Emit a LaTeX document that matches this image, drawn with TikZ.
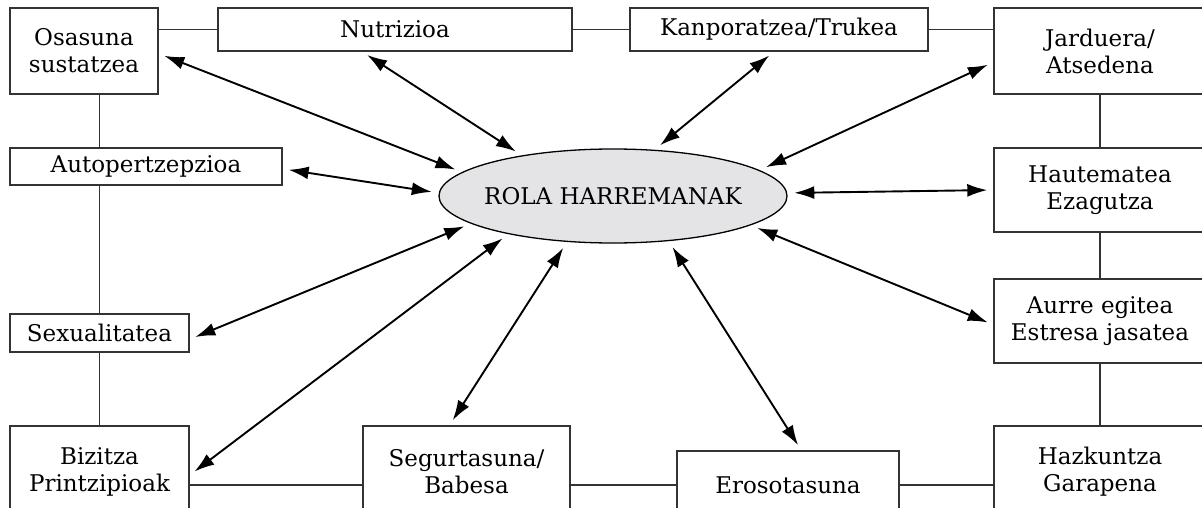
\documentclass[tikz,border=0pt]{standalone}
\usepackage{fontspec}
\setmainfont{DejaVu Serif}
\usetikzlibrary{arrows.meta,shapes.geometric}
\definecolor{boxline}{RGB}{51,51,51}
\definecolor{rolagray}{RGB}{228,228,230}
\tikzset{
  wire/.style={boxline,line width=1.3pt},
  box/.style={draw=boxline,line width=1.4pt,fill=white,inner sep=0pt,align=center,
              font=\fontsize{23}{27}\selectfont},
  core/.style={ellipse,draw=black,line width=1.3pt,fill=rolagray,inner ysep=0pt,inner xsep=-15pt,
               minimum width=348pt,minimum height=94pt,font=\fontsize{23}{27}\selectfont},
  link/.style={{Latex[length=20pt,width=13pt]}-{Latex[length=20pt,width=13pt]},
               line width=1.9pt,shorten <=7pt,shorten >=6pt},
}

\begin{document}
\begin{tikzpicture}[x=1pt,y=-1pt]
  \path[use as bounding box] (0,0) rectangle (1202,508);
  \clip (0,0) rectangle (1202,508);

  % top row
  \node[box,minimum width=148pt,minimum height=86pt] (osasuna) at (84,51) {Osasuna\\sustatzea};
  \node[box,minimum width=354pt,minimum height=43pt] (nutrizioa) at (395,29.5) {Nutrizioa};
  \node[box,minimum width=298pt,minimum height=43pt] (kanpor) at (779,29.5) {Kanporatzea/Trukea};
  \node[box,minimum width=212pt,minimum height=86pt] (jarduera) at (1100,51) {Jarduera/\\Atsedena};

  % left column
  \node[box,minimum width=272pt,minimum height=37pt] (autoper) at (146,166.5) {Autopertzepzioa};
  \node[box,minimum width=179pt,minimum height=38pt] (sexual) at (99.5,333) {Sexualitatea};
  \node[box,minimum width=179pt,minimum height=92pt] (bizitza) at (99.5,472) {Bizitza\\Printzipioak};

  % right column
  \node[box,minimum width=212pt,minimum height=84pt] (hautematea) at (1100,190) {Hautematea\\Ezagutza};
  \node[box,minimum width=212pt,minimum height=84pt] (aurre) at (1100,321) {Aurre egitea\\Estresa jasatea};
  \node[box,minimum width=212pt,minimum height=92pt] (hazkuntza) at (1100,472) {Hazkuntza\\Garapena};

  % bottom row
  \node[box,minimum width=207pt,minimum height=92pt] (segurt) at (466.5,472) {Segurtasuna/\\Babesa};
  \node[box,minimum width=222pt,minimum height=68pt] (eroso) at (788,485) {Erosotasuna};

  \node[core] (rola) at (613,196) {ROLA HARREMANAK};

  % frame
  \draw[wire] (osasuna.east |- nutrizioa.west) -- (nutrizioa.west);
  \draw[wire] (nutrizioa.east) -- (kanpor.west);
  \draw[wire] (kanpor.east) -- (kanpor.east -| jarduera.west);
  \draw[wire] (jarduera) -- (hautematea);
  \draw[wire] (hautematea) -- (aurre);
  \draw[wire] (aurre) -- (hazkuntza);
  \draw[wire] (osasuna.south -| sexual) -- (autoper.north -| sexual);
  \draw[wire] (autoper.south -| sexual) -- (sexual.north);
  \draw[wire] (sexual) -- (bizitza);
  \draw[wire] (bizitza.east |- eroso) -- (segurt.west |- eroso);
  \draw[wire] (segurt.east |- eroso) -- (eroso.west);
  \draw[wire] (eroso.east) -- (eroso.east -| hazkuntza.west);

  % arrows
  \draw[link] (rola.171.6) -- (osasuna.-2.5);
  \draw[link] (rola.156.9) -- (nutrizioa.214.2);
  \draw[link] (rola.48.6) -- (kanpor.257);
  \draw[link] (rola.10.6) -- (jarduera.186.5);
  \draw[link] (rola.1.3) -- (hautematea.180);
  \draw[link] (rola.179) -- (autoper.-1.1);
  \draw[link] (rola.191.6) -- (sexual.-4.2);
  \draw[link] (rola.200) -- (bizitza.-2.6);
  \draw[link] (rola.225.6) -- (segurt.110.2);
  \draw[link] (rola.321.4) -- (eroso.69.7);
  \draw[link] (rola.348) -- (aurre.182.3);
\end{tikzpicture}
\end{document}
